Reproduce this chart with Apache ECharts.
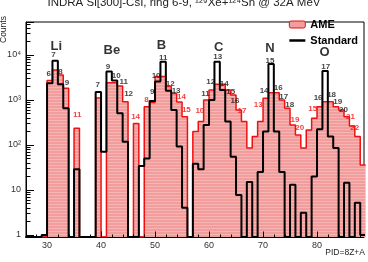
<!DOCTYPE html>
<html lang="en">
<head>
<meta charset="UTF-8">
<title>INDRA PID</title>
<style>html,body{margin:0;padding:0;background:#fff;}</style>
</head>
<body>
<div id="main" style="width:368px;height:262px;"></div>
<script src="https://cdn.jsdelivr.net/npm/echarts@6/dist/echarts.min.js"></script>
<script>
var chart = echarts.init(document.getElementById('main'));

// one bin per PID unit (PID = 8Z+A), first bin is PID 26
var pidStart = 26;
var ameCounts = [
    0, 0, 0, 0, 2700, 4650, 3600, 1810, 0, 235,
    0, 0, 0, 1100, 0, 2420, 2420, 2040, 910, 0,
    300, 0, 710, 880, 3300, 3300, 2000, 1400, 900, 425,
    0, 200, 330, 1000, 1660, 2230, 2230, 1660, 1290, 600,
    330, 85, 155, 330, 1090, 1450, 1450, 1000, 650, 277,
    166, 85, 215, 390, 710, 910, 910, 710, 600, 425,
    263, 155, 36
];
var stdCounts = [
    0, 0, 0, 1, 2350, 7400, 2230, 655, 0, 29,
    0, 0, 0, 1500, 71, 4300, 2700, 505, 118, 0,
    0, 34, 50, 950, 2560, 7100, 1600, 600, 92, 4,
    0, 38, 29, 277, 1000, 7100, 1660, 330, 55, 7.7,
    0, 15, 0, 25, 200, 6300, 200, 25, 0, 13,
    0, 3.1, 0, 20, 224, 4400, 155, 85, 0, 14.5,
    0, 5.2, 1
];

// element names and where they are written (PID, counts)
var elements = [
    ['Li', 31.7, 15800], ['Be', 42.0, 12300], ['B', 51.2, 16200],
    ['C', 61.8, 15000], ['N', 71.3, 13900], ['O', 81.4, 11400]
];
// isotope labels: mass number, PID, counts, 1 = only in AME (red)
var isotopes = [
    ['6', 30.3, 3790, 0], ['7', 31.2, 10000, 0], ['8', 32.5, 4260, 0], ['9', 33.7, 2420, 0], ['11', 35.6, 464, 1],
    ['7', 39.4, 2150, 0], ['9', 41.3, 5340, 0], ['10', 42.8, 3410, 0], ['11', 44.2, 2560, 0], ['12', 45.1, 1340, 0], ['14', 46.4, 425, 1],
    ['8', 48.4, 1000, 1], ['9', 49.5, 1480, 0], ['10', 50.2, 3460, 0], ['11', 51.5, 8730, 0], ['12', 52.8, 2340, 0], ['13', 53.9, 1590, 0], ['14', 54.9, 1150, 1], ['15', 55.8, 600, 1],
    ['10', 58.3, 580, 1], ['11', 59.35, 1400, 0], ['12', 60.3, 2560, 0], ['13', 61.6, 8880, 0], ['14', 62.8, 2340, 0], ['15', 64.0, 1520, 0], ['16', 64.8, 950, 0], ['17', 66.1, 570, 1],
    ['13', 69.1, 770, 1], ['14', 70.2, 1620, 0], ['15', 71.3, 7480, 0], ['16', 72.8, 1820, 0], ['17', 73.85, 1150, 0], ['18', 74.95, 770, 0], ['19', 75.9, 370, 1], ['20', 76.8, 235, 1],
    ['15', 79.2, 650, 1], ['16', 80.2, 1120, 0], ['17', 81.6, 5500, 0], ['18', 82.7, 1290, 0], ['19', 83.85, 915, 0], ['20', 84.9, 600, 0], ['21', 86.2, 425, 1], ['22', 87.0, 235, 1]
];

var xMin = 26.1, xMax = 88.7;
var yMin = 0.9, yMax = 54000;
var font = '"Liberation Sans", Arial, sans-serif';

function stepData(counts) {
    var pts = counts.map(function (c, i) {
        return [pidStart + i, c > 0 ? c : yMin];
    });
    pts.push([pidStart + counts.length, pts[pts.length - 1][1]]);
    return pts;
}

function hatch() {
    var c = document.createElement('canvas');
    c.width = 4; c.height = 3;
    var g = c.getContext('2d');
    g.fillStyle = '#f39c9c';
    g.fillRect(0, 0, 4, 3);
    g.fillStyle = '#f7b6b6';
    g.fillRect(0, 0, 4, 1);
    return c;
}

// tick marks ROOT style: long x ticks each 10, short ones each 2, log minor ticks on y
var ticks = [];
for (var t = 28; t <= 88; t += 2) ticks.push([t, yMin, 1, t % 10 === 0 ? 6 : 3]);
for (var d = 0; d <= 4; d++) {
    for (var k = 2; k <= 9; k++) {
        var v = k * Math.pow(10, d);
        if (v < yMax) ticks.push([xMin, v, 0, 4]);
    }
}

var sup = {'2': '\u00b2', '3': '\u00b3', '4': '\u2074'};

var option = {
    backgroundColor: '#fff',
    animation: false,
    title: {
        text: 'INDRA Si[300]-CsI, ring 6-9, \u00b9\u00b2\u2079Xe+\u00b9\u00b2\u2074Sn @ 32A MeV',
        left: 'center',
        top: -8,
        textStyle: {fontFamily: font, fontSize: 11.5, fontWeight: 'normal', color: '#222'}
    },
    legend: {
        orient: 'vertical',
        right: 10,
        top: 19,
        padding: 0,
        itemWidth: 16,
        itemHeight: 7,
        itemGap: 5,
        textStyle: {fontFamily: font, fontSize: 11, fontWeight: 'bold', color: '#000'},
        data: [
            {name: 'AME', icon: 'roundRect', itemStyle: {color: '#f39c9c', borderColor: '#e01010', borderWidth: 1}},
            {name: 'Standard', itemStyle: {opacity: 0}, lineStyle: {color: '#000', width: 2.5}}
        ]
    },
    grid: {left: 26, right: 4, top: 22, bottom: 25, show: true, borderColor: '#000', borderWidth: 1},
    xAxis: {
        type: 'value', min: xMin, max: xMax, splitNumber: 6,
        axisLine: {lineStyle: {color: '#000'}},
        axisTick: {show: false},
        splitLine: {show: false},
        axisLabel: {
            fontFamily: font, fontSize: 9, color: '#333', margin: 4,
            showMinLabel: false, showMaxLabel: false,
            formatter: function (v) { return Math.abs(v % 10) < 1e-6 ? String(Math.round(v)) : ''; }
        }
    },
    yAxis: {
        type: 'log', min: yMin, max: yMax, logBase: 10,
        axisLine: {lineStyle: {color: '#000'}},
        axisTick: {inside: true, length: 8, lineStyle: {color: '#000'}},
        splitLine: {show: false},
        axisLabel: {
            fontFamily: font, fontSize: 9, color: '#333', margin: 5,
            formatter: function (v) {
                var l = Math.log10(v), r = Math.round(l);
                if (Math.abs(l - r) > 1e-6 || r < 0) return '';
                if (r === 0) return '1';
                if (r === 1) return '10';
                return '10' + sup[r];
            }
        }
    },
    series: [{
        name: 'AME',
        type: 'line',
        step: 'end',
        symbol: 'none',
        data: stepData(ameCounts),
        lineStyle: {color: '#f01010', width: 1.5},
        itemStyle: {color: '#f39c9c'},
        areaStyle: {color: {image: hatch(), repeat: 'repeat'}, origin: 'start', opacity: 1},
        z: 2
    }, {
        name: 'Standard',
        type: 'line',
        step: 'end',
        symbol: 'none',
        data: stepData(stdCounts),
        lineStyle: {color: '#000', width: 2},
        itemStyle: {color: '#000'},
        z: 3
    }, {
        type: 'custom',
        silent: true,
        clip: false,
        data: ticks,
        z: 4,
        renderItem: function (params, api) {
            var p = api.coord([api.value(0), api.value(1)]);
            var len = api.value(3);
            var x = Math.round(p[0]) + 0.5, y = Math.round(p[1]) + 0.5;
            var shape = api.value(2) ? {x1: x, y1: y, x2: x, y2: y - len} : {x1: x, y1: y, x2: x + len, y2: y};
            return {type: 'line', shape: shape, style: {stroke: '#000', lineWidth: 1}};
        }
    }, {
        type: 'scatter',
        silent: true,
        symbolSize: 1,
        itemStyle: {color: 'rgba(0,0,0,0)'},
        z: 5,
        label: {show: true, position: 'inside', fontFamily: font, fontSize: 8, fontWeight: 'bold',
            formatter: function (p) { return p.name; }},
        data: isotopes.map(function (d) {
            return {name: d[0], value: [d[1], d[2]], label: {color: d[3] ? '#f01010' : '#111'}};
        })
    }, {
        type: 'scatter',
        silent: true,
        symbolSize: 1,
        itemStyle: {color: 'rgba(0,0,0,0)'},
        z: 5,
        label: {show: true, position: 'inside', fontFamily: font, fontSize: 13, fontWeight: 'bold', color: '#000',
            formatter: function (p) { return p.name; }},
        data: elements.map(function (d) { return {name: d[0], value: [d[1], d[2]]}; })
    }],
    graphic: [{
        type: 'text', x: 4, y: 43, rotation: Math.PI / 2,
        style: {text: 'Counts', font: '8.5px ' + font, fill: '#222', align: 'left', verticalAlign: 'middle'}
    }, {
        type: 'text', right: 3, top: 248,
        style: {text: 'PID=8Z+A', font: '8.5px ' + font, fill: '#222'}
    }]
};
chart.setOption(option);
</script>
</body>
</html>
